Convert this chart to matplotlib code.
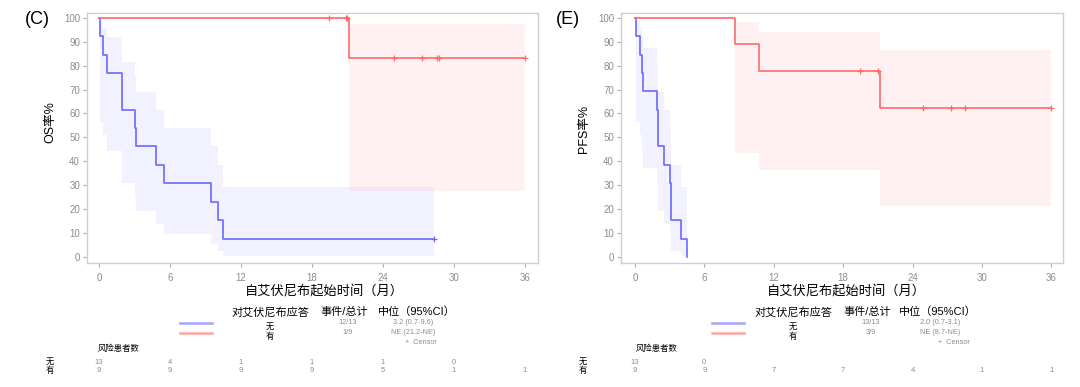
import numpy as np
import matplotlib
matplotlib.use("Agg")
import matplotlib.pyplot as plt
from matplotlib.lines import Line2D
import matplotlib.transforms as mtransforms

plt.rcParams['font.family'] = ['Liberation Sans', 'Noto Sans CJK SC', 'DejaVu Sans']

W, H = 1080, 387

# ---- OS data (panel C) ----
os_none_t = [0, 0.06, 0.38, 0.67, 1.92, 1.98, 3.09, 3.15, 4.84, 5.53, 9.5, 10.08, 10.5, 28.3]
os_none_s = [100, 92.3, 84.6, 76.9, 69.2, 61.5, 53.8, 46.2, 38.5, 30.8, 23.1, 15.4, 7.7, 7.7]
os_none_lo = [100, 56.6, 51.2, 44.2, 37.3, 30.8, 24.8, 19.2, 14.0, 9.5, 5.6, 2.5, 0.5, 0.5]
os_none_hi = [100, 98.9, 95.9, 91.9, 87.2, 81.6, 75.4, 68.8, 61.5, 53.9, 46.2, 38.3, 29.2, 29.2]
os_none_cens = [28.3]

os_yes_t = [0, 21.15, 36.0]
os_yes_s = [100, 83.3, 83.3]
os_yes_lo = [100, 27.6, 27.6]
os_yes_hi = [100, 97.6, 97.6]
os_yes_cens = [19.46, 20.9, 20.97, 24.96, 27.3, 28.6, 28.7, 36.0]

os_risk_none = ['13', '4', '1', '1', '1', '0', '']
os_risk_yes = ['9', '9', '9', '9', '5', '1', '1']
os_stats = [('12/13', '3.2 (0.7-9.6)'), ('1/9', 'NE (21.2-NE)')]

# ---- PFS data (panel E) ----
pfs_none_t = [0, 0.06, 0.42, 0.65, 0.70, 1.90, 1.96, 2.02, 2.5, 3.05, 3.08, 3.11, 3.97, 4.54]
pfs_none_s = [100, 92.3, 84.6, 76.9, 69.2, 61.5, 53.8, 46.2, 38.5, 30.8, 23.1, 15.4, 7.7, 0]
pfs_none_lo = [100, 56.6, 51.2, 44.2, 37.3, 30.8, 24.8, 19.2, 14.0, 9.5, 5.6, 2.5, 0.5, 0]
pfs_none_hi = [100, 98.9, 95.9, 91.9, 87.2, 81.6, 75.4, 68.8, 61.5, 53.9, 46.2, 38.3, 29.2, 0]
pfs_none_cens = []

pfs_yes_t = [0, 8.66, 10.7, 21.15, 36.0]
pfs_yes_s = [100, 88.9, 77.8, 62.2, 62.2]
pfs_yes_lo = [100, 43.3, 36.5, 21.3, 21.3]
pfs_yes_hi = [100, 98.3, 94.2, 86.5, 86.5]
pfs_yes_cens = [19.45, 21.0, 24.9, 27.3, 28.5, 36.0]

pfs_risk_none = ['13', '0', '', '', '', '', '']
pfs_risk_yes = ['9', '9', '7', '7', '4', '1', '1']
pfs_stats = [('13/13', '2.0 (0.7-3.1)'), ('3/9', 'NE (8.7-NE)')]

xticks = [0, 6, 12, 18, 24, 30, 36]
groups = ['无', '有']

BLUE = '#6a6aff'
RED = '#ff6a6a'
GREY = '#8c8c8c'


def fx(px):
    return px / W


def fy(py):
    return 1 - py / H


def step_val(t, s, x):
    i = np.searchsorted(t, x, side='right') - 1
    return np.asarray(s)[i]


def km(ax, t, s, lo, hi, cens, color):
    ax.fill_between(t, lo, hi, step='post', color=color, alpha=0.09, lw=0)
    ax.step(t, s, where='post', color=color, lw=1.2)
    if cens:
        ax.plot(cens, step_val(t, s, cens), ls='none', marker='+', ms=4,
                mew=0.9, color=color)


fig = plt.figure(figsize=(W / 100, H / 100), dpi=100)

panels = [
    dict(rect=[87, 13, 538, 263], xlim=(-1.0, 37.1), tag='(C)', tagx=37, ylab='OS率%',
         ylx=50, yly=122,
         none=(os_none_t, os_none_s, os_none_lo, os_none_hi, os_none_cens),
         yes=(os_yes_t, os_yes_s, os_yes_lo, os_yes_hi, os_yes_cens),
         risk=(os_risk_none, os_risk_yes), stats=os_stats, xlab=324,
         leg=dict(line=180, grp=270, ev=344, med=417, medv=413, cens=421, risk=119, row=50)),
    dict(rect=[621, 13, 1063, 263], xlim=(-1.2, 37.0), tag='(E)', tagx=568, ylab='PFS率%',
         ylx=584, yly=129,
         none=(pfs_none_t, pfs_none_s, pfs_none_lo, pfs_none_hi, pfs_none_cens),
         yes=(pfs_yes_t, pfs_yes_s, pfs_yes_lo, pfs_yes_hi, pfs_yes_cens),
         risk=(pfs_risk_none, pfs_risk_yes), stats=pfs_stats, xlab=846,
         leg=dict(line=712, grp=793, ev=867, med=938, medv=940, cens=954, risk=657, row=583)),
]

for p in panels:
    l, t, r, b = p['rect']
    ax = fig.add_axes([fx(l), fy(b), fx(r - l), (b - t) / H])
    km(ax, *p['none'], BLUE)
    km(ax, *p['yes'], RED)
    ax.set_xlim(*p['xlim'])
    ax.set_ylim(-2.5, 102)
    ax.set_xticks(xticks)
    ax.set_yticks(range(0, 101, 10))
    for sp in ax.spines.values():
        sp.set_color('#cfcfcf')
        sp.set_linewidth(1.0)
    ax.tick_params(direction='out', length=3, width=0.8, color='#b0b0b0',
                   labelcolor=GREY, labelsize=7, pad=2)
    ax.tick_params(axis='x', pad=4)

    fig.text(fx(p['tagx']), fy(20), p['tag'], fontsize=13, ha='center', va='center')
    fig.text(fx(p['ylx']), fy(p['yly']), p['ylab'], fontsize=9, rotation=90,
             ha='center', va='center')
    fig.text(fx(p['xlab']), fy(292), '自艾伏尼布起始时间（月）', fontsize=9.5,
             ha='center', va='center')

    lg = p['leg']
    fig.text(fx(lg['grp']), fy(312), '对艾伏尼布应答', fontsize=8, ha='center', va='center')
    fig.text(fx(lg['ev']), fy(312), '事件/总计', fontsize=8, ha='center', va='center')
    fig.text(fx(lg['med']), fy(312), '中位（95%CI）', fontsize=8, ha='center', va='center')
    for k, (c, ly, gy) in enumerate([('#a4a4ff', 323, 327), ('#ffa4a4', 333, 337)]):
        fig.add_artist(Line2D([fx(lg['line']), fx(lg['line'] + 32)], [fy(ly), fy(ly)],
                              color=c, lw=1.8, transform=fig.transFigure))
        fig.text(fx(lg['grp']), fy(gy), groups[k], fontsize=6, ha='center', va='center')
        ev, med = p['stats'][k]
        fig.text(fx(lg['ev'] + 4), fy(ly), ev, fontsize=5.3, color=GREY, ha='center', va='center')
        fig.text(fx(lg['medv']), fy(ly), med, fontsize=5.3, color=GREY, ha='center', va='center')
    fig.text(fx(lg['cens']), fy(343), '+  Censor', fontsize=5.3, color=GREY, ha='center', va='center')
    fig.text(fx(lg['risk']), fy(349), '风险患者数', fontsize=6, ha='center', va='center')

    trans = mtransforms.blended_transform_factory(ax.transData, fig.transFigure)
    for k, (row, ry) in enumerate(zip(p['risk'], [362, 371])):
        fig.text(fx(lg['row']), fy(ry), groups[k], fontsize=6, ha='center', va='center')
        for xv, n in zip(xticks, row):
            if n:
                ax.text(xv, fy(ry), n, transform=trans, fontsize=5.5, color=GREY,
                        ha='center', va='center', clip_on=False)

fig.savefig('out.png', dpi=100)
